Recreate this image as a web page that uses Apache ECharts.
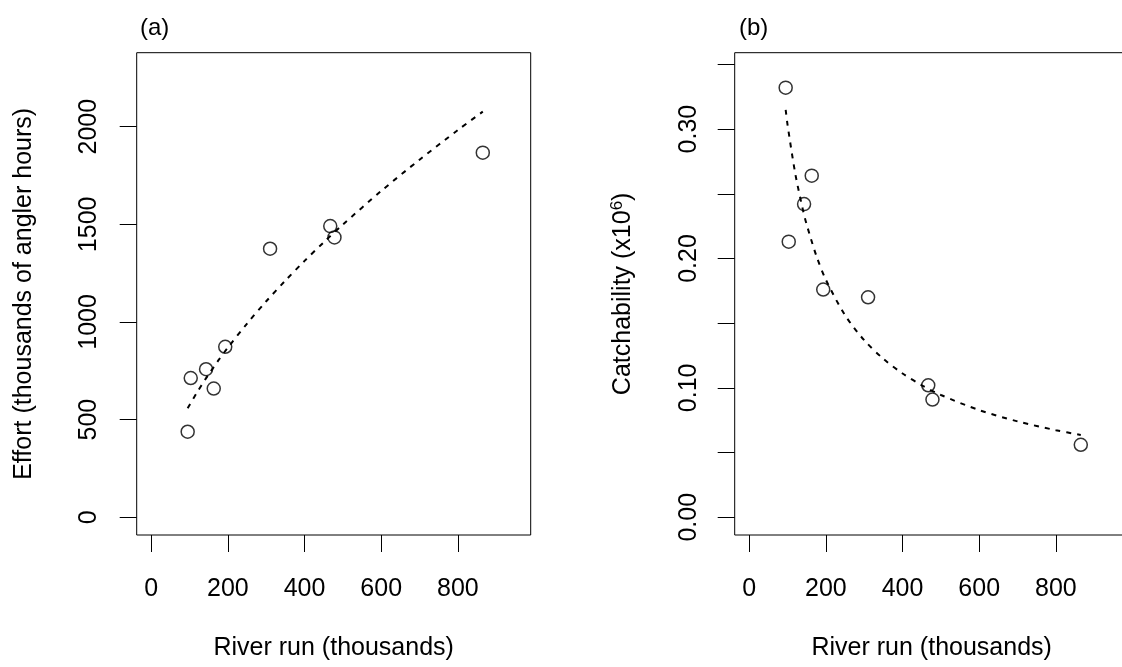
<!DOCTYPE html>
<html>
<head>
<meta charset="utf-8">
<script src="https://cdn.jsdelivr.net/npm/echarts@6/dist/echarts.min.js"></script>
<style>
  html, body { margin: 0; padding: 0; background: #fff; }
  #chart { width: 1122px; height: 667px; }
</style>
</head>
<body>
<div id="chart"></div>
<script>
// River run (thousands) for each season
const runs = [95, 103, 143, 163, 193, 310, 467, 478, 865];
// (a) angling effort, thousands of angler hours
const effort = [438, 713, 758, 659, 873, 1375, 1491, 1433, 1867];
// (b) catchability (x10^6)
const catchability = [0.332, 0.213, 0.242, 0.264, 0.176, 0.170, 0.102, 0.091, 0.056];

// fitted curves
const fitRuns = [95, 100, 120, 140, 150, 175, 200, 250, 300, 350, 400, 450, 500, 600, 700, 800, 865];
const effortFit = [558, 575, 641, 703, 732, 803, 869, 992, 1106, 1212, 1313, 1408, 1499, 1671, 1831, 1983, 2077];
const catchFit = [0.3148, 0.3031, 0.2656, 0.2375, 0.2260, 0.2021, 0.1835, 0.1561, 0.1368, 0.1224, 0.1111, 0.1020, 0.0945, 0.0828, 0.0741, 0.0673, 0.0636];

// tick positions
const runTicks = [0, 200, 400, 600, 800];
const effortTicks = [0, 500, 1000, 1500, 2000];
const catchTicks = [0, 0.05, 0.1, 0.15, 0.2, 0.25, 0.3, 0.35];
const catchLabels = [0, 0.1, 0.2, 0.3];

const FONT = '"Liberation Sans", Arial, Helvetica, sans-serif';
const FS = 25;
const pairs = (xs, ys) => xs.map((x, i) => [x, ys[i]]);

const tickStyle = (vals) => ({
  show: true, inside: false, length: 17, customValues: vals,
  lineStyle: { color: '#000', width: 1 }
});
const labelStyle = (vals, margin, extra) => Object.assign({
  show: true, customValues: vals, margin: margin,
  color: '#000', fontSize: FS, fontFamily: FONT,
  formatter: (v) => String(v)
}, extra || {});

const xAxisFor = (gridIndex) => ({
  type: 'value', gridIndex: gridIndex, min: -38, max: 990,
  axisLine: { show: false, onZero: false }, splitLine: { show: false },
  axisTick: tickStyle(runTicks),
  axisLabel: labelStyle(runTicks, 42),
  name: 'River run (thousands)', nameLocation: 'middle', nameGap: 101,
  nameTextStyle: { color: '#000', fontSize: FS, fontFamily: FONT }
});

const gridBox = (left) => ({
  left: left, top: 52.7, width: 394, height: 482.3,
  show: true, borderColor: '#000', borderWidth: 1, backgroundColor: 'transparent',
  containLabel: false, outerBoundsMode: 'none'
});

const chart = echarts.init(document.getElementById('chart'), null, { renderer: 'canvas' });
chart.setOption({
  animation: false,
  backgroundColor: '#fff',
  title: [
    { text: '(a)', left: 135, top: 11, textStyle: { fontSize: 24, fontWeight: 'normal', color: '#000', fontFamily: FONT } },
    { text: '(b)', left: 734, top: 11, textStyle: { fontSize: 24, fontWeight: 'normal', color: '#000', fontFamily: FONT } }
  ],
  grid: [gridBox(136.7), gridBox(734.7)],
  xAxis: [xAxisFor(0), xAxisFor(1)],
  yAxis: [
    {
      type: 'value', gridIndex: 0, min: -91, max: 2379,
      axisLine: { show: false, onZero: false }, splitLine: { show: false },
      axisTick: tickStyle(effortTicks),
      axisLabel: labelStyle(effortTicks, 35, { rotate: 90 }),
      name: 'Effort (thousands of angler hours)', nameLocation: 'middle', nameGap: 100,
      nameTextStyle: { color: '#000', fontSize: FS, fontFamily: FONT }
    },
    {
      type: 'value', gridIndex: 1, min: -0.0137, max: 0.359,
      axisLine: { show: false, onZero: false }, splitLine: { show: false },
      axisTick: tickStyle(catchTicks),
      axisLabel: labelStyle(catchLabels, 33, { rotate: 90, formatter: (v) => v.toFixed(2) }),
      name: '{n|Catchability (x10}{s|6}{n|)}', nameLocation: 'middle', nameGap: 98,
      nameTextStyle: {
        color: '#000', fontSize: FS, fontFamily: FONT,
        rich: {
          n: { fontSize: FS, fontFamily: FONT, color: '#000', lineHeight: 28 },
          s: { fontSize: 17, fontFamily: FONT, color: '#000', verticalAlign: 'top', lineHeight: 28, padding: [0, 0, 9, 0] }
        }
      }
    }
  ],
  series: [
    {
      type: 'line', xAxisIndex: 0, yAxisIndex: 0, data: pairs(fitRuns, effortFit),
      showSymbol: false, smooth: 0.3, silent: true,
      lineStyle: { color: '#000', width: 2, type: [5, 6] }
    },
    {
      type: 'scatter', xAxisIndex: 0, yAxisIndex: 0, data: pairs(runs, effort),
      symbol: 'circle', symbolSize: 13,
      itemStyle: { color: 'rgba(0,0,0,0)', borderColor: '#000', borderWidth: 1.5 }
    },
    {
      type: 'line', xAxisIndex: 1, yAxisIndex: 1, data: pairs(fitRuns, catchFit),
      showSymbol: false, smooth: 0.3, silent: true,
      lineStyle: { color: '#000', width: 2, type: [5, 6] }
    },
    {
      type: 'scatter', xAxisIndex: 1, yAxisIndex: 1, data: pairs(runs, catchability),
      symbol: 'circle', symbolSize: 13,
      itemStyle: { color: 'rgba(0,0,0,0)', borderColor: '#000', borderWidth: 1.5 }
    }
  ]
});
</script>
</body>
</html>
